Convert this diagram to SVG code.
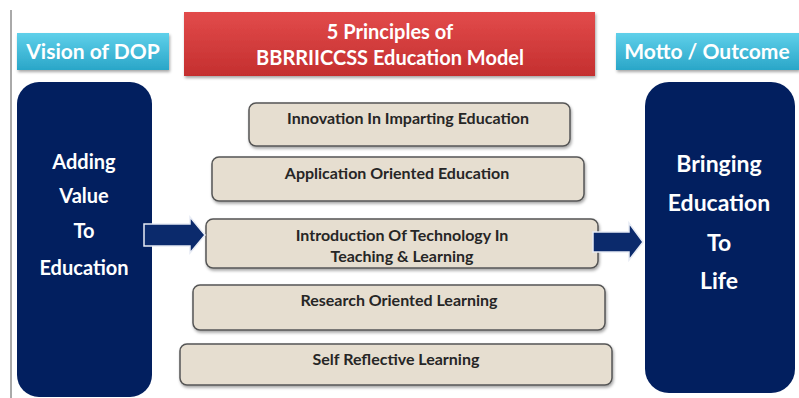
<svg xmlns="http://www.w3.org/2000/svg" width="799" height="398" viewBox="0 0 799 398">
<defs>
<linearGradient id="red" x1="0" y1="0" x2="0" y2="1"><stop offset="0" stop-color="#e24b4b"/><stop offset="1" stop-color="#c42f2f"/></linearGradient>
<linearGradient id="cyan" x1="0" y1="0" x2="0" y2="1"><stop offset="0" stop-color="#5fd0ea"/><stop offset="1" stop-color="#2aa6c8"/></linearGradient>
<filter id="sh" x="-10%" y="-20%" width="120%" height="150%"><feDropShadow dx="1" dy="2" stdDeviation="1.5" flood-color="#000" flood-opacity="0.35"/></filter>
</defs>
<style>
.navy{fill:#021f5f}
.beige{fill:#e6ded0;stroke:#555;stroke-width:1.5;filter:url(#sh)}
.bt{font-family:Lato,"Open Sans",sans-serif;font-weight:bold;font-size:16px;fill:#262626;text-anchor:middle}
.wt{font-family:Lato,"Open Sans",sans-serif;font-weight:bold;fill:#fff;text-anchor:middle}
.arrow{fill:#0b2a6c;stroke:#e8ecf5;stroke-width:1.5}
</style>
<rect width="799" height="398" fill="#fff"/>
<line x1="11" y1="10" x2="11" y2="398" stroke="#555" stroke-width="1"/>

<g id="title">
<rect x="184" y="12" width="411" height="64" fill="url(#red)" filter="url(#sh)"/>
<text class="wt" x="390" y="39" font-size="20">5 Principles of</text>
<text class="wt" x="390" y="65" font-size="20">BBRRIICCSS Education Model</text>
</g>
<g id="vision-label">
<rect x="17" y="33" width="152" height="37" fill="url(#cyan)" filter="url(#sh)"/>
<text class="wt" x="93" y="59" font-size="21">Vision of DOP</text>
</g>
<g id="motto-label">
<rect x="616" y="33" width="183" height="37" fill="url(#cyan)" filter="url(#sh)"/>
<text class="wt" x="707" y="59" font-size="21">Motto / Outcome</text>
</g>
<g id="vision">
<rect class="navy" x="17" y="82" width="135" height="315" rx="22"/>
<text class="wt" x="84" y="169" font-size="20">Adding</text>
<text class="wt" x="84" y="203" font-size="20">Value</text>
<text class="wt" x="84" y="238" font-size="20">To</text>
<text class="wt" x="84" y="275" font-size="20">Education</text>
</g>
<g id="motto">
<rect class="navy" x="645" y="82" width="150" height="311" rx="24"/>
<text class="wt" x="719" y="172" font-size="23">Bringing</text>
<text class="wt" x="719" y="211" font-size="23">Education</text>
<text class="wt" x="719" y="251" font-size="23">To</text>
<text class="wt" x="719" y="289" font-size="23">Life</text>
</g>
<g id="p1">
<rect class="beige" x="249" y="103" width="321" height="43" rx="7"/>
<text class="bt" x="408" y="124">Innovation In Imparting Education</text>
</g>
<g id="p2">
<rect class="beige" x="212" y="157" width="372" height="44" rx="7"/>
<text class="bt" x="397" y="179">Application Oriented Education</text>
</g>
<g id="p3">
<rect class="beige" x="206" y="219" width="392" height="49" rx="7"/>
<text class="bt" x="402" y="241">Introduction Of Technology In</text>
<text class="bt" x="402" y="262">Teaching &amp; Learning</text>
</g>
<g id="p4">
<rect class="beige" x="193" y="285" width="412" height="45" rx="7"/>
<text class="bt" x="399" y="306">Research Oriented Learning</text>
</g>
<g id="p5">
<rect class="beige" x="180" y="344" width="432" height="41" rx="7"/>
<text class="bt" x="396" y="365">Self Reflective Learning</text>
</g>
<g id="connectors">
<path class="arrow" d="M144,224 H190 V217 L205,235 L190,253 V246 H144 Z"/>
<path class="arrow" d="M593,232 H629 V223 L643,242 L629,260 V252 H593 Z"/>
</g>
</svg>
